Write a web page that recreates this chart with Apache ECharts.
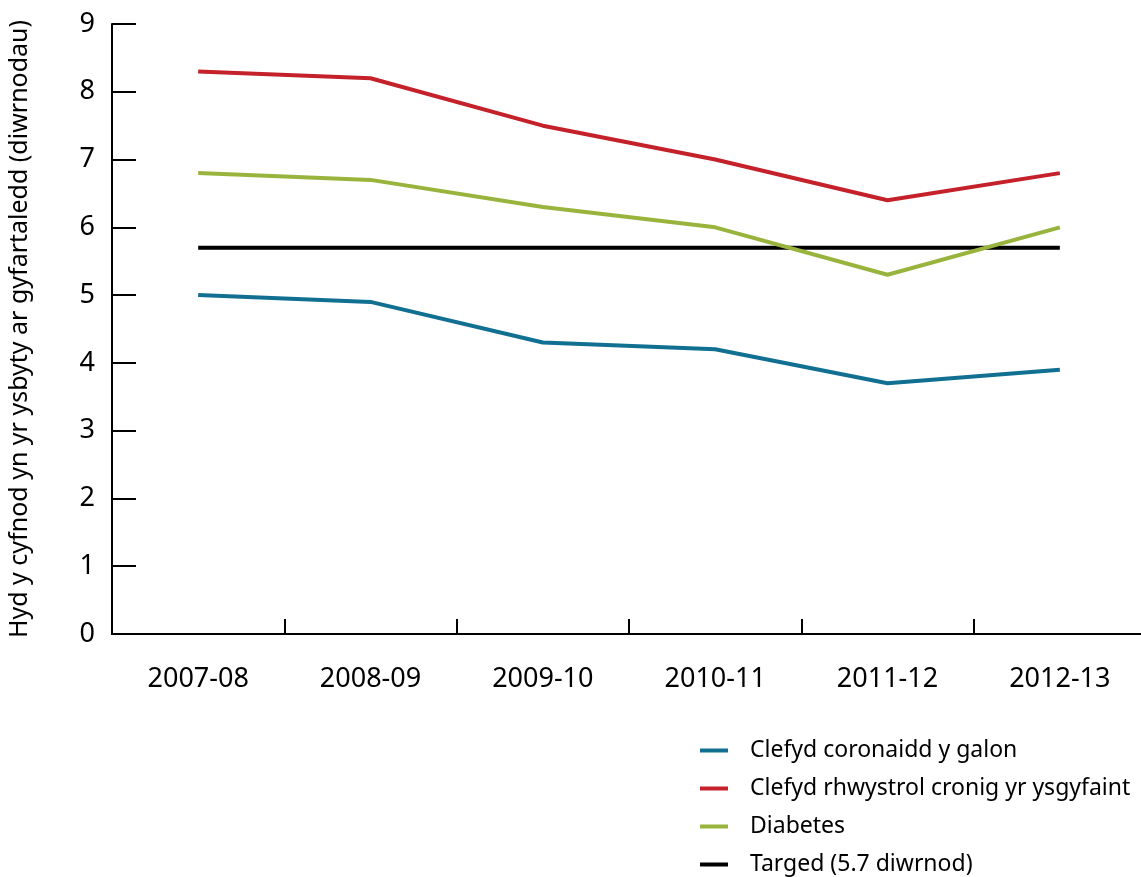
<!DOCTYPE html>
<html>
<head>
<meta charset="utf-8">
<script src="https://cdn.jsdelivr.net/npm/echarts@6/dist/echarts.min.js"></script>
<style>
  html, body { margin: 0; padding: 0; background: #fff; overflow: hidden; }
  #chart { width: 1141px; height: 877px; }
</style>
</head>
<body>
<div id="chart"></div>
<script>
const years = ['2007-08', '2008-09', '2009-10', '2010-11', '2011-12', '2012-13']
const heartDisease = [5.0, 4.9, 4.3, 4.2, 3.7, 3.9]
const copd = [8.3, 8.2, 7.5, 7.0, 6.4, 6.8]
const diabetes = [6.8, 6.7, 6.3, 6.0, 5.3, 6.0]
const target = [5.7, 5.7, 5.7, 5.7, 5.7, 5.7]

const font = 'Noto Sans'

const chart = echarts.init(document.getElementById('chart'), null, { renderer: 'canvas' })

function line(name, data, color, z) {
  return {
    name,
    type: 'line',
    data,
    symbol: 'none',
    z,
    lineStyle: { color, width: 4 },
    itemStyle: { color },
    emphasis: { disabled: true }
  }
}

chart.setOption({
  animation: false,
  textStyle: { fontFamily: font, color: '#000' },
  grid: { left: 112, right: -5, top: 24, bottom: 243, outerBoundsMode: 'none' },
  legend: {
    orient: 'vertical',
    left: 700,
    top: 739,
    padding: 0,
    icon: 'rect',
    itemWidth: 28,
    itemHeight: 4,
    itemGap: 15,
    textStyle: { fontFamily: font, fontSize: 23, color: '#000', padding: [0, 0, 0, 17] },
    data: ['Clefyd coronaidd y galon', 'Clefyd rhwystrol cronig yr ysgyfaint', 'Diabetes', 'Targed (5.7 diwrnod)']
  },
  xAxis: {
    type: 'category',
    data: years,
    boundaryGap: true,
    axisLine: { lineStyle: { color: '#000', width: 2 } },
    axisTick: { show: true, inside: true, length: 15, lineStyle: { color: '#000', width: 2 } },
    axisLabel: { color: '#000', fontSize: 27, margin: 32, fontFamily: font }
  },
  yAxis: {
    type: 'value',
    min: 0,
    max: 9,
    interval: 1,
    name: 'Hyd y cyfnod yn yr ysbyty ar gyfartaledd (diwrnodau)',
    nameLocation: 'middle',
    nameGap: 80,
    nameTextStyle: { fontSize: 25, color: '#000', fontFamily: font },
    axisLine: { show: true, lineStyle: { color: '#000', width: 2 } },
    axisTick: { show: true, inside: true, length: 24, lineStyle: { color: '#000', width: 2 } },
    axisLabel: { color: '#000', fontSize: 27, margin: 17, fontFamily: font },
    splitLine: { show: false }
  },
  series: [
    line('Clefyd coronaidd y galon', heartDisease, '#116f91', 3),
    line('Clefyd rhwystrol cronig yr ysgyfaint', copd, '#c4212b', 3),
    line('Diabetes', diabetes, '#99b43d', 3),
    line('Targed (5.7 diwrnod)', target, '#000000', 2)
  ]
})
</script>
</body>
</html>
